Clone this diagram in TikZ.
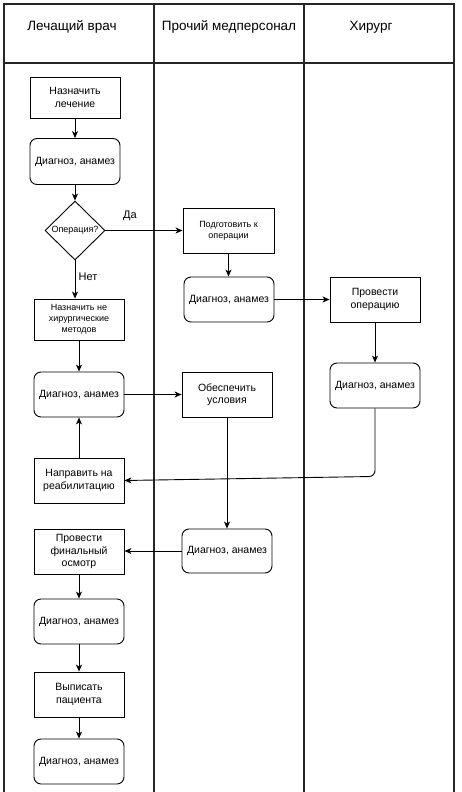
\documentclass[tikz,border=0pt]{standalone}
\usepackage{fontspec}
\setmainfont{Liberation Sans}
\usetikzlibrary{shapes.geometric,arrows.meta}
\tikzset{
  lane/.style={line width=1.1pt, draw=black!85},
  box/.style={draw, line width=0.9pt, minimum width=90pt, minimum height=45pt, inner sep=1pt, align=center, font=\fontsize{10.5}{12.5}\selectfont},
  smallbox/.style={box, font=\fontsize{9}{11}\selectfont},
  rbox/.style={box, rounded corners=7pt},
  hdr/.style={font=\fontsize{13.5}{16}\selectfont},
  lbl/.style={font=\fontsize{11}{13}\selectfont},
  arr/.style={-{Stealth[length=7pt,width=6pt,inset=2pt]}, line width=0.9pt},
}
\begin{document}
\begin{tikzpicture}[x=1pt,y=-1pt]
\useasboundingbox (0,0) rectangle (461,792);
% lanes
\draw[lane] (4,792) -- (4,4) -- (454,4) -- (454,792);
\draw[lane] (154,4) -- (154,792);
\draw[lane] (304,4) -- (304,792);
\draw[lane] (4,63) -- (454,63);
\node[hdr] (h1) at (72,27) {Лечащий врач};
\node[hdr] (h2) at (229,27) {Прочий медперсонал};
\node[hdr] (h3) at (371,27) {Хирург};
% nodes
\node[box, minimum height=41pt] (n1) at (75,97.5) {Назначить\\лечение};
\node[rbox, minimum height=46pt] (d1) at (75,161.5) {Диагноз, анамез};
\node[draw, diamond, line width=0.9pt, minimum width=60pt, minimum height=59pt, inner sep=0pt] (q) at (75,230.5) {};
\node[font=\fontsize{9}{11}\selectfont] (qt) at (q.center) {Операция?};
\node[smallbox, minimum width=91pt] (p1) at (228.5,230.5) {Подготовить к\\операции};
\node[lbl] (da) at (130,216) {Да};
\node[lbl] (net) at (88,277) {Нет};
\node[smallbox, minimum height=41pt] (n2) at (79,319.5) {Назначить не\\хирургические\\методов};
\node[rbox] (d2) at (229,299.5) {Диагноз, анамез};
\node[box] (o1) at (375,299.5) {Провести\\операцию};
\node[rbox] (d3) at (375,385.5) {Диагноз, анамез};
\node[rbox] (d4) at (79,394.5) {Диагноз, анамез};
\node[box] (o2) at (227,394.5) {Обеспечить\\условия};
\node[box] (r1) at (79,480.5) {Направить на\\реабилитацию};
\node[rbox, minimum height=44pt] (d5) at (227,551) {Диагноз, анамез};
\node[box] (f1) at (79,551.5) {Провести\\финальный\\осмотр};
\node[rbox] (d6) at (79,621.5) {Диагноз, анамез};
\node[box] (v1) at (79,694.5) {Выписать\\пациента};
\node[rbox] (d7) at (79,761.5) {Диагноз, анамез};
% arrows
\draw[arr] (n1.south) -- (d1.north);
\draw[arr] (d1.south) -- (q.north);
\draw[arr] (q.east) -- (q.east -| p1.west);
\draw[arr] (p1.south) -- (p1.south |- d2.north);
\draw[arr] (q.south) -- (q.south |- n2.north);
\draw[arr] (d2.east) -- (d2.east -| o1.west);
\draw[arr] (o1.south) -- (d3.north);
\draw[arr] (n2.south) -- (d4.north);
\draw[arr] (r1.north) -- (d4.south);
\draw[arr] (d4.east) -- (d4.east -| o2.west);
\draw[arr, rounded corners=6pt] (d3.south) -- ++(0,68) -- (r1.east);
\draw[arr] (o2.south) -- (o2.south |- d5.north);
\draw[arr] (d5.west) -- (d5.west -| f1.east);
\draw[arr] (f1.south) -- (d6.north);
\draw[arr] (d6.south) -- (v1.north);
\draw[arr] (v1.south) -- (d7.north);
\end{tikzpicture}
\end{document}
